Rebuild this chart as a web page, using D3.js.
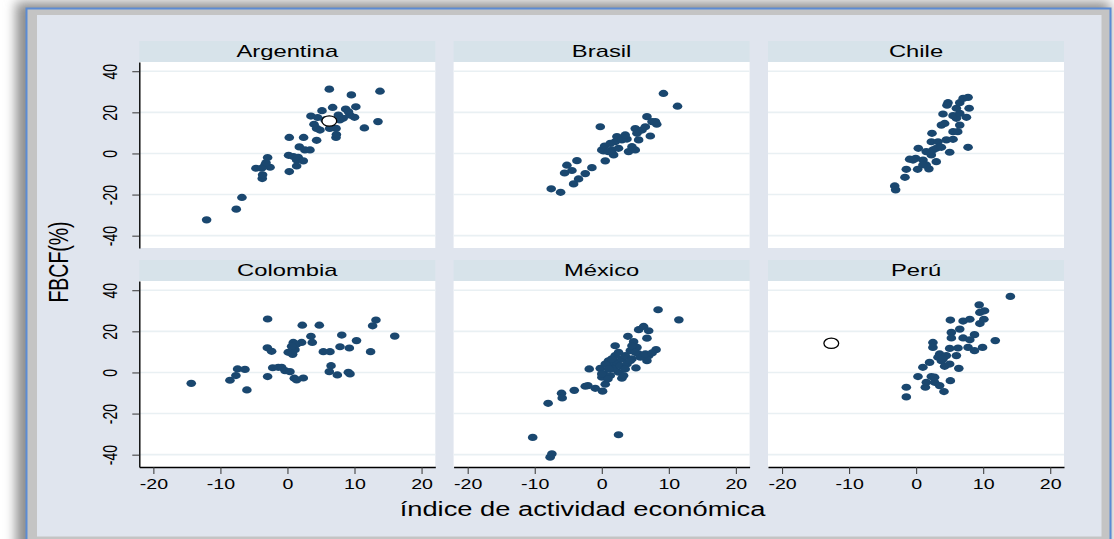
<!DOCTYPE html>
<html><head><meta charset="utf-8">
<script src="https://cdn.jsdelivr.net/npm/d3@7"></script>
<style>html,body{margin:0;padding:0;background:#fff;overflow:hidden}</style>
</head><body>
<svg id="c" width="1114" height="539"></svg>
<script>
// ---------- data ----------
const countries = ["Argentina", "Brasil", "Chile", "Colombia", "México", "Perú"];
const xTicks = [-20, -10, 0, 10, 20];
const yTicks = [-40, -20, 0, 20, 40];
const xTitle = "índice de actividad económica";
const yTitle = "FBCF(%)";

const argentina = [[-12.06,-32.3],[-7.64,-27.1],[-6.79,-21.4],[-3.76,-12.2],[-3.71,-10.4],[-4.7,-7.2],[-2.96,-2.0],[-3.36,-5.6],[-2.6,-6.7],[-3.86,-7.2],[-3.2,-4.5],[0.27,-8.8],[0.17,-0.9],[0.87,-1.5],[1.37,-3.2],[1.6,-1.9],[2.36,-3.6],[1.37,-6.1],[0.27,7.8],[2.41,7.8],[1.77,3.2],[3.36,1.7],[2.6,1.7],[4.35,6.4],[3.5,18.2],[5.15,20.8],[3.96,14.2],[4.35,12.2],[4.85,11.4],[6.24,31.3],[9.53,28.5],[13.8,30.3],[6.74,22.4],[8.68,21.6],[10.2,22.7],[7.59,18.7],[8.3,17.1],[10.0,17.6],[9.3,18.7],[7.24,12.2],[7.24,7.8],[11.47,12.4],[13.5,15.5],[6.3,12.2],[5.6,16.3],[7.8,16.3],[9.1,20.3],[4.5,17.5],[7.3,9.2]];
const brasil = [[-7.54,-17.2],[-6.14,-18.9],[-4.2,-14.8],[-3.46,-12.4],[-2.46,-9.8],[-1.47,-6.9],[-3.7,-3.5],[-5.2,-5.7],[-5.55,-9.5],[-4.45,-8.3],[-0.22,13.0],[0.52,-3.6],[0.27,1.2],[0.0,1.7],[0.42,3.6],[1.77,-0.7],[1.52,1.7],[2.0,5.7],[2.26,8.2],[3.0,6.6],[3.76,7.0],[2.5,2.5],[4.0,0.9],[5.0,1.7],[4.5,3.3],[5.5,6.6],[5.0,12.1],[6.0,11.4],[7.24,8.5],[6.74,17.9],[7.5,15.5],[8.2,14.2],[8.0,15.5],[9.2,29.2],[11.3,23.0],[6.5,13.0],[5.25,9.8],[3.5,9.0],[1.27,4.9],[1.0,0.9]];
const chile = [[-3.2,-15.8],[-3.06,-17.7],[-1.67,-11.6],[-1.47,-7.7],[0.22,-7.7],[1.9,-7.5],[-0.97,-2.8],[-0.07,-2.4],[0.32,2.5],[1.02,-3.2],[1.5,-5.6],[3.0,-4.0],[2.26,-0.7],[2.5,1.7],[1.5,0.9],[2.26,5.7],[3.26,5.7],[2.36,9.8],[5.0,0.6],[7.74,3.0],[4.5,6.6],[5.5,6.9],[3.76,13.8],[4.25,14.6],[4.0,19.2],[5.5,10.6],[6.2,10.6],[6.5,13.8],[6.0,17.1],[7.5,17.6],[5.5,18.4],[6.5,19.5],[6.0,22.0],[7.9,22.0],[4.75,24.7],[4.6,23.5],[6.5,24.7],[7.0,26.8],[7.74,27.3],[3.0,2.5],[3.76,3.0],[1.0,-5.6],[-0.47,-3.2]];
const colombia = [[-14.35,-5.3],[-8.58,-3.8],[-7.69,-1.5],[-7.44,1.7],[-6.34,1.5],[-6.05,-8.5],[-2.96,26.0],[-3.0,12.0],[-2.36,10.3],[-2.96,-2.0],[-2.2,2.3],[-1.37,2.5],[-0.87,2.5],[-0.37,0.9],[0.37,0.4],[1.02,-2.8],[1.37,-3.6],[2.36,-2.7],[2.21,23.0],[4.75,23.0],[0.12,9.8],[0.77,8.8],[1.12,11.1],[0.87,14.6],[2.11,14.6],[3.5,17.6],[3.7,14.6],[5.35,10.1],[6.34,10.1],[6.5,3.3],[6.24,0.4],[7.44,-1.2],[8.1,18.2],[7.84,12.5],[9.23,11.9],[9.08,0.1],[9.33,-0.7],[10.3,15.5],[12.4,10.1],[12.7,22.7],[13.2,25.5],[16.0,17.7],[1.37,13.8],[0.62,12.7]];
const mexico = [[-10.3,-31.6],[-7.7,-41.2],[-7.44,-39.6],[-8.0,-15.0],[-6.0,-10.1],[-5.9,-12.4],[-4.1,-8.7],[-2.46,-6.7],[-2.07,-6.4],[-0.97,-7.7],[0.12,-9.1],[0.52,-5.7],[-1.87,1.7],[2.5,-30.3],[-0.22,2.0],[0.02,-2.3],[0.27,-0.7],[1.0,5.7],[1.5,3.3],[2.0,13.0],[2.5,0.1],[3.0,-2.8],[2.26,4.9],[3.0,6.6],[3.5,8.2],[4.25,10.6],[3.9,17.6],[4.75,15.0],[5.25,12.2],[5.5,9.0],[5.1,2.2],[6.74,5.7],[7.0,8.2],[8.1,11.1],[5.5,20.8],[6.24,22.4],[7.0,20.3],[6.74,16.7],[8.4,30.5],[11.5,25.6],[1.27,-1.5],[1.77,1.7],[0.52,4.1],[2.75,3.3],[3.76,4.1],[4.5,6.6],[5.75,7.4],[1.02,1.7],[2.0,8.2],[2.5,9.8],[4.25,5.7],[3.5,1.7],[1.5,6.6],[6.5,9.0],[0.0,-0.7],[4.5,13.0],[5.0,9.8],[0.92,-3.2],[7.5,9.5],[3.26,-1.5]];
const peru = [[-1.47,-7.2],[-1.47,-11.9],[0.27,-2.0],[1.37,-7.2],[1.52,-4.8],[2.26,-2.0],[2.75,-4.8],[3.5,-6.4],[4.15,-9.3],[5.1,-4.0],[1.0,2.5],[2.0,4.9],[2.5,14.6],[2.5,12.2],[3.5,9.0],[3.76,5.7],[4.25,3.0],[5.0,4.1],[6.36,2.0],[6.0,8.2],[5.0,11.7],[6.24,11.9],[7.74,12.2],[8.7,10.6],[9.9,12.2],[11.8,15.5],[5.25,19.5],[6.5,21.1],[5.25,16.8],[7.0,16.8],[8.0,15.9],[8.7,18.4],[5.1,25.5],[7.0,25.0],[8.0,25.9],[9.5,23.8],[10.1,25.9],[9.4,32.9],[9.5,29.2],[10.2,30.0],[14.05,37.0],[3.26,7.4],[4.5,8.2],[2.75,-2.3],[4.0,6.6]];
const seriesList = [argentina, brasil, chile, colombia, mexico, peru];
// hollow (highlighted) markers per panel
const hollowArgentina = [[6.24, 15.8]];
const hollowPeru = [[-12.66, 14.2]];
const hollowList = [hollowArgentina, [], [], [], [], hollowPeru];

// ---------- layout ----------
const SX = 1.4; // horizontal stretch of the original picture
const FONT = "'Liberation Sans', Arial, Helvetica, sans-serif";
const panelX = [139.3, 453.6, 768];
const panelW = 296;
const rowTop = [41, 260];
const headH = 21;
const plotH = 186;
const markColor = "#1a476f";
const fmt = d => String(d);

const svg = d3.select("#c");
const defs = svg.append("defs");
const f = defs.append("filter").attr("id", "sh").attr("x", "-10%").attr("y", "-10%").attr("width", "120%").attr("height", "120%");
f.append("feGaussianBlur").attr("stdDeviation", 6);

svg.append("rect").attr("width", 1114).attr("height", 539).attr("fill", "#ffffff");
svg.append("rect").attr("x", 16).attr("y", 2).attr("width", 1094).attr("height", 560)
  .attr("fill", "#8d8d8d").attr("filter", "url(#sh)");
svg.append("rect").attr("x", 26.5).attr("y", 8.5).attr("width", 1084).attr("height", 545)
  .attr("fill", "#c4c4c4").attr("stroke", "#5b8bd4").attr("stroke-width", 2);
svg.append("rect").attr("x", 37).attr("y", 15).attr("width", 1064.5).attr("height", 521.5)
  .attr("fill", "#e0e5ee");

const x = d3.scaleLinear().domain([-22.1, 22.05]).range([0, panelW]);
const y = d3.scaleLinear().domain([-46, 44.5]).range([plotH, 0]);

countries.forEach((name, i) => {
  const col = i % 3, row = Math.floor(i / 3);
  const g = svg.append("g").attr("transform", `translate(${panelX[col]},${rowTop[row]})`);
  // header strip
  g.append("rect").attr("width", panelW).attr("height", headH).attr("fill", "#d7e3ea");
  g.append("text").attr("transform", `translate(${panelW / 2},${headH - 5.5}) scale(${SX},1)`)
    .attr("text-anchor", "middle").attr("font-family", FONT).attr("font-size", 17)
    .attr("fill", "#000").text(name);
  const p = g.append("g").attr("transform", `translate(0,${headH})`);
  p.append("rect").attr("width", panelW).attr("height", plotH).attr("fill", "#ffffff");
  p.selectAll("line.grid").data(yTicks).join("line").attr("class", "grid")
    .attr("x1", 0).attr("x2", panelW).attr("y1", d => y(d)).attr("y2", d => y(d))
    .attr("stroke", "#e9f0f3").attr("stroke-width", 1.6);

  if (col === 0) {
    const ya = p.append("g").call(d3.axisLeft(y).tickValues(yTicks).tickFormat(fmt).tickSize(7).tickSizeOuter(0));
    ya.select(".domain").attr("stroke", "#000").attr("stroke-width", 1.4);
    ya.selectAll(".tick line").attr("stroke", "#333").attr("stroke-width", 1);
    ya.selectAll(".tick text").attr("x", null).attr("dy", null)
      .attr("text-anchor", "middle")
      .attr("transform", `translate(-22,0) scale(${SX},1) rotate(-90)`)
      .attr("font-family", FONT).attr("font-size", 14).attr("fill", "#000");
  }
  if (row === 1) {
    const xa = p.append("g").attr("transform", `translate(0,${plotH})`)
      .call(d3.axisBottom(x).tickValues(xTicks).tickFormat(fmt).tickSize(7).tickSizeOuter(0));
    xa.select(".domain").attr("stroke", "#000").attr("stroke-width", 1.4);
    xa.selectAll(".tick line").attr("stroke", "#333").attr("stroke-width", 1);
    xa.selectAll(".tick text").attr("y", null).attr("dy", null)
      .attr("text-anchor", "middle")
      .attr("transform", `translate(0,22) scale(${SX},1)`)
      .attr("font-family", FONT).attr("font-size", 14).attr("fill", "#000");
  }
  p.selectAll("ellipse.pt").data(seriesList[i]).join("ellipse").attr("class", "pt")
    .attr("cx", d => x(d[0])).attr("cy", d => y(d[1]))
    .attr("rx", 4.8).attr("ry", 3.6).attr("fill", markColor);
  p.selectAll("ellipse.ho").data(hollowList[i]).join("ellipse").attr("class", "ho")
    .attr("cx", d => x(d[0])).attr("cy", d => y(d[1]))
    .attr("rx", 7.4).attr("ry", 5.2).attr("fill", "#ffffff")
    .attr("stroke", "#000").attr("stroke-width", 1.3);
});

// axis titles
svg.append("text").attr("transform", `translate(582.5,516) scale(${SX},1)`)
  .attr("text-anchor", "middle").attr("font-family", FONT).attr("font-size", 19.5)
  .attr("fill", "#000").text(xTitle);
svg.append("text").attr("transform", `translate(68,262) scale(${SX},1) rotate(-90)`)
  .attr("text-anchor", "middle").attr("font-family", FONT).attr("font-size", 19.5)
  .attr("fill", "#000").text(yTitle);
</script>
</body></html>
